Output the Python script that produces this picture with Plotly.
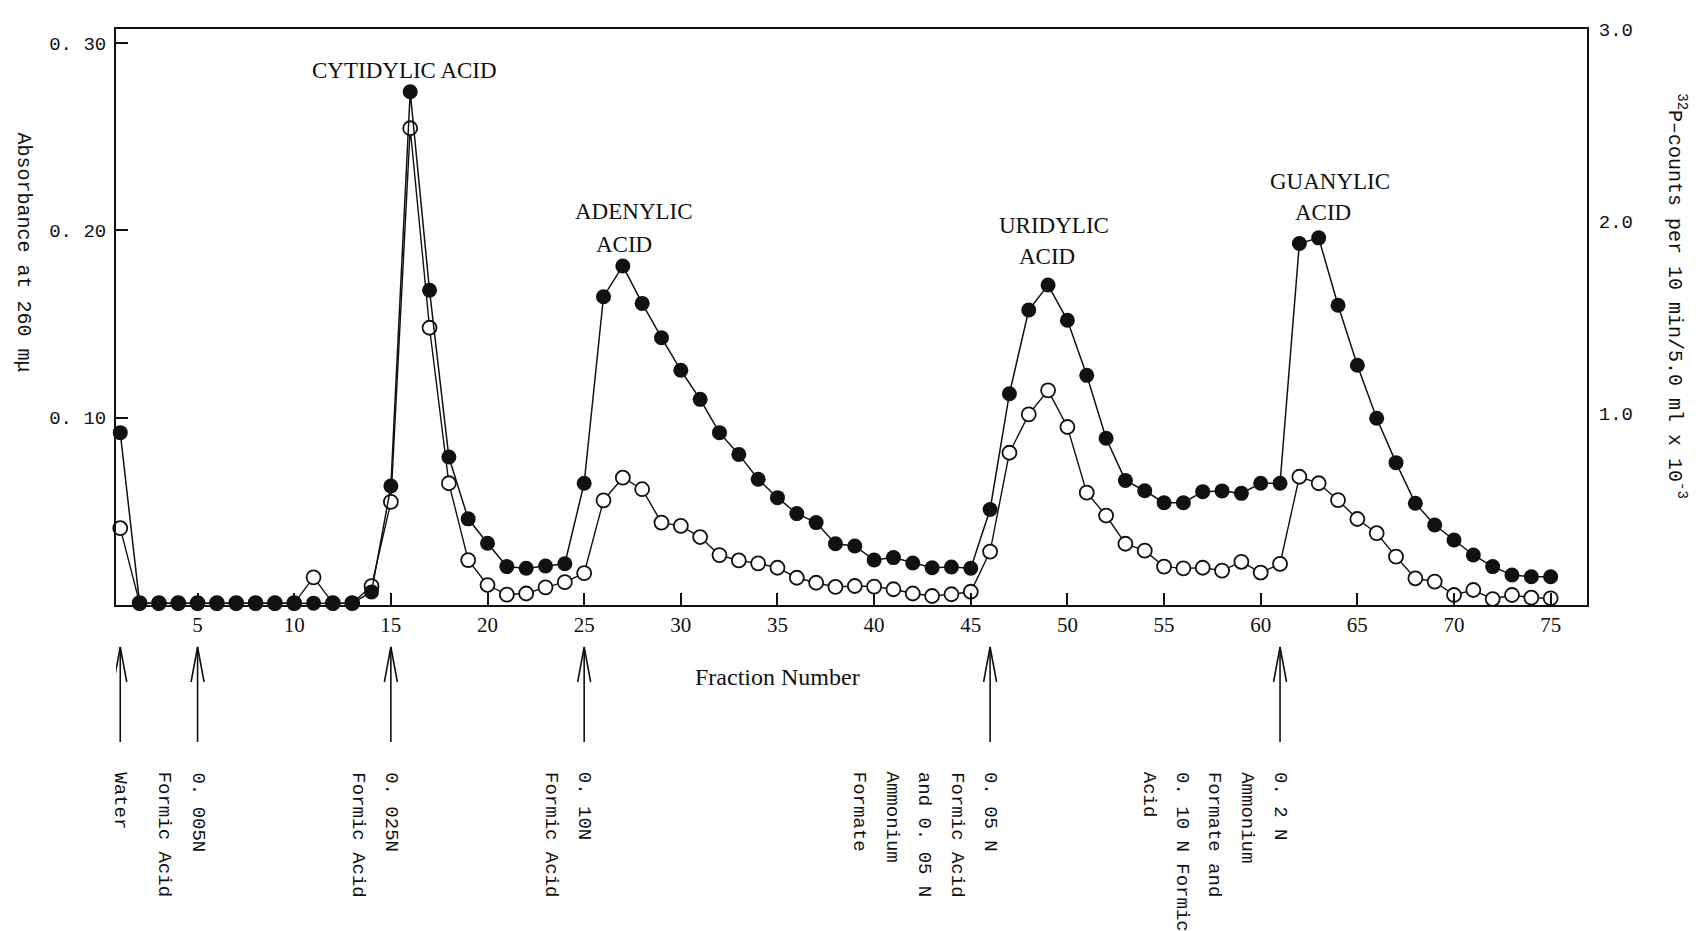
import plotly.graph_objects as go

# Fraction numbers collected from the column
fractions = list(range(1, 76))

# Absorbance at 260 mu (filled circles, left axis)
absorbance_260 = [
    0.092, 0.001, 0.001, 0.001, 0.001, 0.001, 0.001, 0.001, 0.001, 0.001,
    0.001, 0.001, 0.001, 0.007, 0.0635, 0.274, 0.168, 0.079, 0.046, 0.033,
    0.0205, 0.0196, 0.0208, 0.022, 0.065, 0.1646, 0.181, 0.161, 0.1427, 0.1253,
    0.1098, 0.092, 0.0804, 0.0671, 0.0573, 0.0488, 0.044, 0.0327, 0.0315, 0.024,
    0.0253, 0.0224, 0.0199, 0.0203, 0.0196, 0.051, 0.1128, 0.1575, 0.1708, 0.152,
    0.1226, 0.089, 0.0665, 0.061, 0.0546, 0.0546, 0.0605, 0.0609, 0.0596, 0.065,
    0.065, 0.193, 0.196, 0.160, 0.128, 0.0997, 0.076, 0.0543, 0.0427, 0.0347,
    0.0267, 0.0205, 0.016, 0.0151, 0.0151,
]

# 32P counts per 10 min / 5.0 ml x 10^-3 (open circles, right axis)
p32_counts = [
    0.40, 0.01, 0.01, 0.01, 0.01, 0.01, 0.01, 0.01, 0.01, 0.01,
    0.144, 0.01, 0.01, 0.098, 0.537, 2.483, 1.444, 0.634, 0.234, 0.104,
    0.054, 0.060, 0.092, 0.119, 0.166, 0.545, 0.663, 0.603, 0.429, 0.412,
    0.354, 0.260, 0.232, 0.217, 0.194, 0.142, 0.116, 0.094, 0.099, 0.096,
    0.082, 0.060, 0.047, 0.056, 0.069, 0.278, 0.793, 0.993, 1.118, 0.927,
    0.585, 0.466, 0.319, 0.283, 0.200, 0.191, 0.194, 0.179, 0.225, 0.169,
    0.214, 0.668, 0.634, 0.546, 0.448, 0.374, 0.252, 0.139, 0.122, 0.052,
    0.078, 0.031, 0.052, 0.038, 0.035,
]

# Axis ticks
x_ticks = [5, 10, 15, 20, 25, 30, 35, 40, 45, 50, 55, 60, 65, 70, 75]
abs_tick_vals = [0.10, 0.20, 0.30]
abs_tick_text = ["0. 10", "0. 20", "0. 30"]
count_tick_vals = [1.0, 2.0, 3.0]
count_tick_text = ["1.0", "2.0", "3.0"]

# Eluent changes: fraction where each starts, and its label lines
step_fractions = [1, 5, 15, 25, 46, 61]
step_labels = [
    ["Water"],
    ["0. 005N", "Formic Acid"],
    ["0. 025N", "Formic Acid"],
    ["0. 10N", "Formic Acid"],
    ["0. 05 N", "Formic Acid", "and 0. 05 N", "Ammonium", "Formate"],
    ["0. 2 N", "Ammonium", "Formate and", "0. 10 N Formic", "Acid"],
]

# Peak names and their placement (paper fractions)
peak_text = ["CYTIDYLIC ACID", "ADENYLIC", "ACID", "URIDYLIC", "ACID", "GUANYLIC", "ACID"]
peak_pos = [(0.1958, 0.9288), (0.3521, 0.6823), (0.3456, 0.6267),
            (0.6377, 0.6597), (0.6329, 0.6042), (0.8253, 0.7344), (0.8205, 0.6806)]

SERIF = "Liberation Serif"
TYPE = "Liberation Mono"
INK = "#111111"

fig = go.Figure()

fig.add_trace(go.Scatter(
    x=fractions, y=p32_counts, yaxis="y", mode="lines+markers",
    line=dict(color=INK, width=1.4),
    marker=dict(symbol="circle", size=14, color="white", line=dict(color=INK, width=1.8)),
    cliponaxis=False, showlegend=False,
))
fig.add_trace(go.Scatter(
    x=fractions, y=absorbance_260, yaxis="y2", mode="lines+markers",
    line=dict(color=INK, width=1.5),
    marker=dict(symbol="circle", size=15, color=INK, line=dict(color=INK, width=0)),
    cliponaxis=False, showlegend=False,
))

annotations = []
for txt, (px, py) in zip(peak_text, peak_pos):
    annotations.append(dict(
        text=txt, x=px, y=py, xref="paper", yref="paper", showarrow=False,
        xanchor="center", yanchor="middle", font=dict(family=SERIF, size=23, color=INK),
    ))

annotations.append(dict(
    text="Fraction Number", x=0.4494, y=-0.125, xref="paper", yref="paper",
    showarrow=False, xanchor="center", yanchor="middle",
    font=dict(family=SERIF, size=24, color=INK),
))
annotations.append(dict(
    text="Absorbance at 260 m\u03bc", x=-0.0632, y=0.612, xref="paper", yref="paper",
    showarrow=False, textangle=90, xanchor="center", yanchor="middle",
    font=dict(family=TYPE, size=20, color=INK),
))
annotations.append(dict(
    text="<sup>32</sup>P\u2013counts per 10 min/5.0 ml x 10<sup>-3</sup>",
    x=1.061, y=0.5365, xref="paper", yref="paper",
    showarrow=False, textangle=90, xanchor="center", yanchor="middle",
    font=dict(family=TYPE, size=20, color=INK),
))

# Eluent labels: one rotated line each, stacked right-to-left
LINE_GAP = 32.7
LABEL_TOP = -0.2865
for frac, lines in zip(step_fractions, step_labels):
    for k, line in enumerate(lines):
        annotations.append(dict(
            text=line, x=frac, y=LABEL_TOP, xref="x", yref="paper",
            xshift=-k * LINE_GAP, showarrow=False, textangle=90,
            xanchor="center", yanchor="top",
            font=dict(family=TYPE, size=19, color=INK),
        ))

# Arrows marking each eluent change
TIP, HEAD_BASE, TAIL = -0.0729, -0.1337, -0.2378
shapes = []
for frac in step_fractions:
    shapes.append(dict(type="line", xref="x", yref="paper", x0=frac, x1=frac,
                       y0=TAIL, y1=TIP, line=dict(color=INK, width=1.6)))
    shapes.append(dict(type="path", xref="x", yref="paper", xsizemode="pixel", xanchor=frac,
                       path=f"M -6.5,{HEAD_BASE} L 0,{TIP} L 6.5,{HEAD_BASE}",
                       line=dict(color=INK, width=1.6)))

fig.update_layout(
    width=1702, height=931, autosize=False,
    margin=dict(l=116, r=115, t=29, b=326, pad=0),
    paper_bgcolor="white", plot_bgcolor="white",
    xaxis=dict(
        range=[0.78, 76.88], tickvals=x_ticks, ticks="inside", ticklen=12, tickwidth=1.5,
        tickcolor=INK, showline=True, linecolor=INK, linewidth=2, mirror=True,
        showgrid=False, zeroline=False, ticklabelstandoff=0,
        tickfont=dict(family=SERIF, size=21, color=INK),
    ),
    yaxis=dict(
        side="right", range=[0, 3.0], tickvals=count_tick_vals, ticktext=count_tick_text,
        ticks="", showline=True, linecolor=INK, linewidth=2, showgrid=False, zeroline=False,
        ticklabelstandoff=6, tickfont=dict(family=TYPE, size=19, color=INK),
    ),
    yaxis2=dict(
        overlaying="y", side="left", range=[0, 0.3075], tickvals=abs_tick_vals,
        ticktext=abs_tick_text, ticks="inside", ticklen=12, tickwidth=1.5, tickcolor=INK,
        showline=True, linecolor=INK, linewidth=2, showgrid=False, zeroline=False,
        ticklabelstandoff=4, tickfont=dict(family=TYPE, size=19, color=INK),
    ),
    annotations=annotations,
    shapes=shapes,
)

fig.write_html("out.html")
